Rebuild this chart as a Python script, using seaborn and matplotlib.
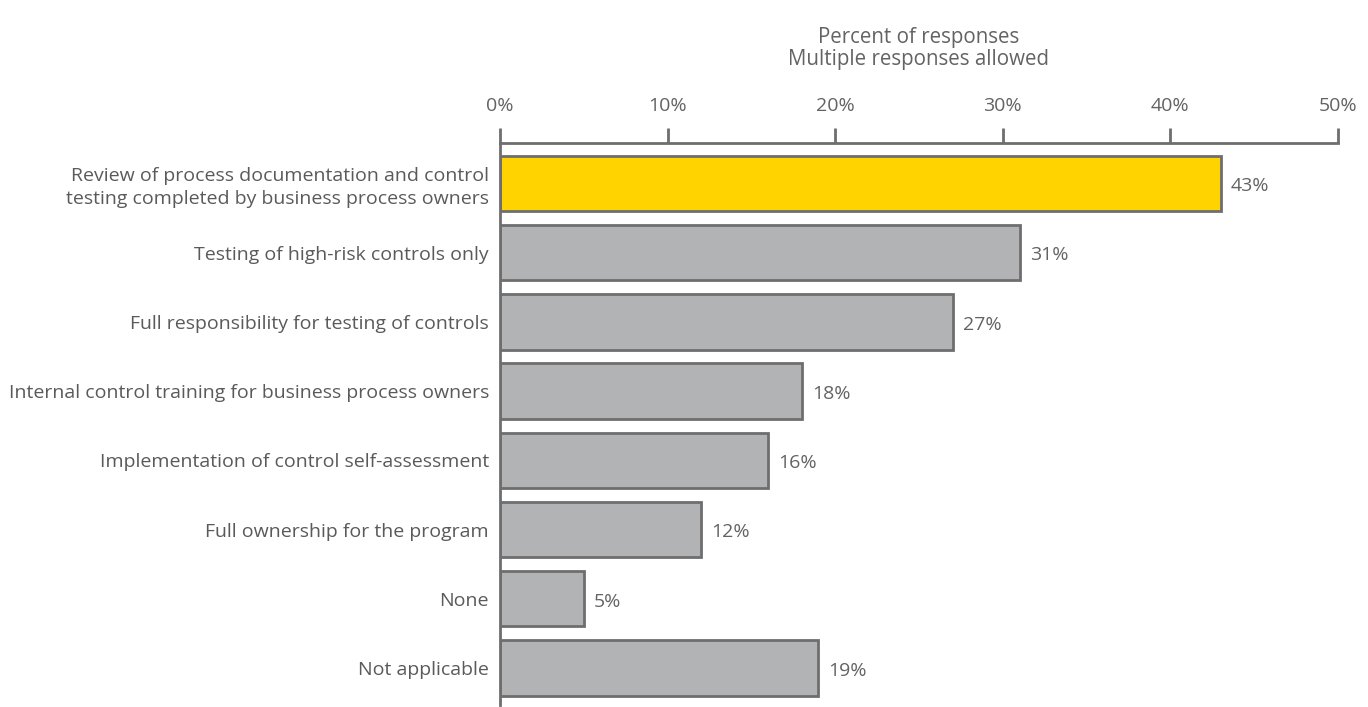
import matplotlib
matplotlib.use("Agg")
import matplotlib.pyplot as plt
import seaborn as sns
import pandas as pd

categories = [
    "Review of process documentation and control\ntesting completed by business process owners",
    "Testing of high-risk controls only",
    "Full responsibility for testing of controls",
    "Internal control training for business process owners",
    "Implementation of control self-assessment",
    "Full ownership for the program",
    "None",
    "Not applicable",
]
values = [43, 31, 27, 18, 16, 12, 5, 19]
highlight = [True, False, False, False, False, False, False, False]
x_ticks = [0, 10, 20, 30, 40, 50]
title_lines = ["Percent of responses", "Multiple responses allowed"]

YELLOW = "#FFD300"
GREY = "#B1B3B5"
EDGE = "#6E6E6E"
TEXT = "#636363"
LABEL = "#5A5A5A"
FS = 14

sns.set_theme(style="white")
plt.rcParams["font.family"] = ["Open Sans", "DejaVu Sans"]

df = pd.DataFrame({"category": categories, "value": values,
                   "group": ["hi" if h else "lo" for h in highlight]})

fig = plt.figure(figsize=(13.68, 7.07), dpi=100)
ax = fig.add_axes([500 / 1368, 2 / 707, 838 / 1368, 562 / 707])

sns.barplot(data=df, x="value", y="category", hue="group",
            palette={"hi": YELLOW, "lo": GREY}, dodge=False, legend=False,
            saturation=1, width=0.8, edgecolor=EDGE, linewidth=2, ax=ax)

ax.set_xlim(0, 50)
ax.set_ylim(len(categories) - 1 + 0.535, -0.585)
ax.xaxis.tick_top()
ax.set_xticks(x_ticks)
ax.set_xticklabels([f"{t}%" for t in x_ticks])
ax.tick_params(axis="x", direction="out", length=11, width=2, color=EDGE,
               labelsize=FS, labelcolor=TEXT, pad=9)
ax.tick_params(axis="y", length=0, labelsize=FS, labelcolor=LABEL, pad=8)
for lbl in ax.get_yticklabels():
    lbl.set_horizontalalignment("right")
    lbl.set_multialignment("right")
    lbl.set_linespacing(1.3)
ax.set_xlabel("")
ax.set_ylabel("")

for side in ["right", "bottom"]:
    ax.spines[side].set_visible(False)
for side in ["top", "left"]:
    ax.spines[side].set_color(EDGE)
    ax.spines[side].set_linewidth(2)

for i, v in enumerate(values):
    ax.text(v + 0.6, i + 0.04, f"{v}%", va="center", ha="left",
            fontsize=FS, color=TEXT)

fig.text(919 / 1368, 1 - 37 / 707, title_lines[0], ha="center", va="center",
         fontsize=14.8, color=TEXT)
fig.text(919 / 1368, 1 - 59 / 707, title_lines[1], ha="center", va="center",
         fontsize=14.8, color=TEXT)

fig.savefig("out.png", dpi=100)
